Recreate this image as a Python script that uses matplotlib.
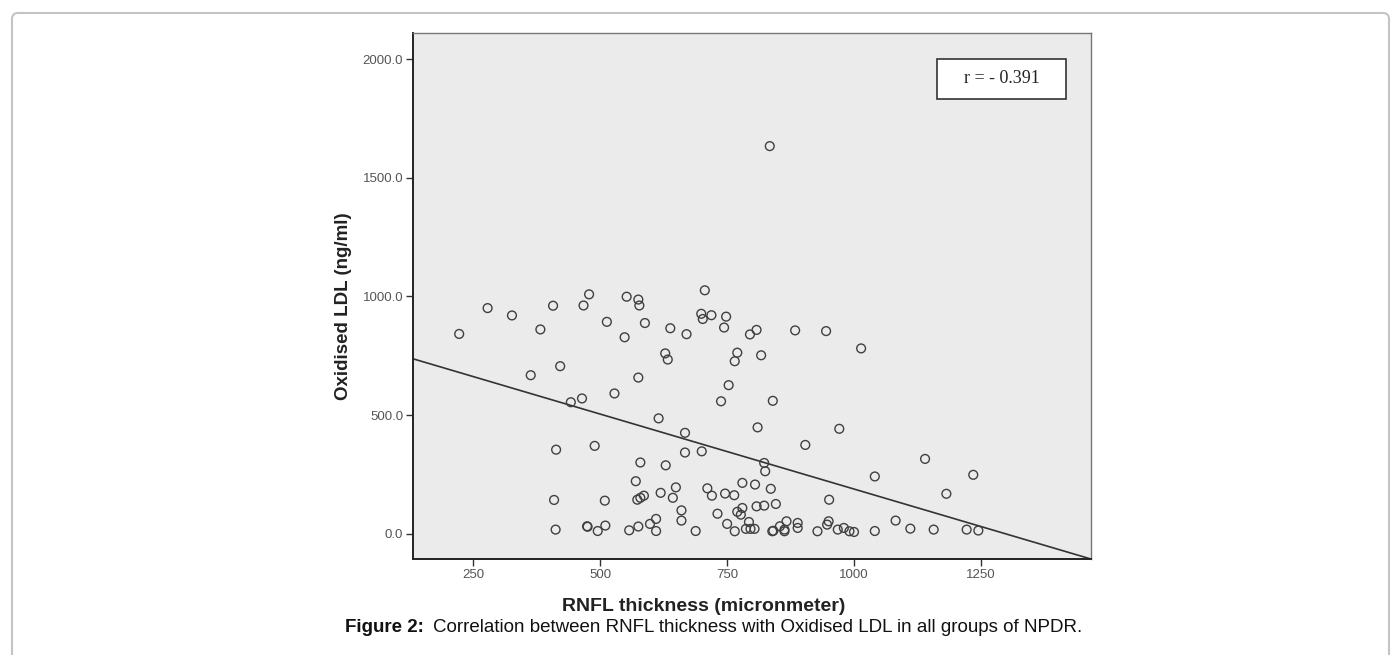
import matplotlib
matplotlib.use("Agg")
import matplotlib.pyplot as plt
from matplotlib.patches import Rectangle, FancyBboxPatch
from matplotlib.ticker import FormatStrFormatter

plt.rcParams['font.family'] = ['Liberation Sans', 'DejaVu Sans']

# RNFL thickness (micronmeter) vs Oxidised LDL (ng/ml)
rnfl = [222, 278, 326, 363, 382, 407, 421, 442, 464, 467, 478, 513, 528, 548, 552,
        575, 577, 575, 588, 615, 628, 633, 638, 667, 670, 667, 699, 702, 700, 706,
        719, 744, 748, 753, 738, 765, 770, 795, 808, 817, 840, 810, 834, 884, 945,
        1014, 971, 904, 823, 825, 1140, 1235, 1041, 1182, 413, 489, 579, 629, 570, 649,
        619, 643, 573, 579, 586, 409, 509, 660, 660, 610, 598, 412, 474, 475, 495,
        510, 557, 575, 610, 688, 711, 720, 746, 764, 780, 805, 836, 951, 846, 808,
        823, 780, 770, 777, 731, 750, 765, 793, 787, 796, 804, 839, 841, 854, 863,
        863, 867, 889, 889, 928, 950, 947, 968, 980, 991, 1000, 1041, 1082, 1111, 1157,
        1222, 1245]
oxldl = [842, 951, 920, 668, 861, 961, 706, 554, 570, 962, 1009, 893, 591, 828, 999,
         987, 962, 658, 888, 486, 760, 734, 866, 425, 841, 342, 927, 905, 347, 1026,
         921, 869, 915, 626, 558, 727, 763, 840, 859, 752, 560, 448, 1634, 857, 854,
         781, 442, 374, 298, 263, 315, 248, 241, 168, 354, 370, 300, 288, 221, 195,
         172, 151, 143, 151, 160, 142, 139, 98, 55, 62, 41, 17, 31, 29, 11,
         34, 14, 30, 11, 11, 191, 160, 169, 162, 214, 207, 189, 143, 125, 115,
         118, 108, 92, 80, 84, 41, 10, 49, 20, 20, 20, 10, 12, 31, 10,
         17, 52, 45, 24, 10, 52, 38, 17, 24, 10, 7, 11, 55, 21, 17,
         17, 13]

# fit line as drawn in the figure
fit_intercept = 820.0
fit_slope = -0.632
r_text = "r = - 0.391"

xticks = [250, 500, 750, 1000, 1250]
yticks = [0, 500, 1000, 1500, 2000]
xlim = (131, 1467)
ylim = (-107, 2111)

fig = plt.figure(figsize=(14, 6.55), dpi=100)
fig.patch.set_facecolor('white')

# rounded page frame
frame = FancyBboxPatch((12, -20), 1377, 655 - 13 + 20,
                       boxstyle="round,pad=0,rounding_size=6",
                       transform=None, facecolor='none', edgecolor='#c4c4c4',
                       linewidth=1.5)
fig.patches.append(frame)

ax = fig.add_axes([413 / 1400, 1 - 559 / 655, 678 / 1400, 526 / 655])
ax.set_facecolor('#ebebeb')

ax.scatter(rnfl, oxldl, s=40, facecolors='none', edgecolors='#404040',
           linewidths=1.0, zorder=3)

xs = [xlim[0], xlim[1]]
ys = [fit_intercept + fit_slope * v for v in xs]
ax.plot(xs, ys, color='#333333', linewidth=1.2, zorder=2)

ax.set_xlim(*xlim)
ax.set_ylim(*ylim)
ax.set_xticks(xticks)
ax.set_yticks(yticks)
ax.yaxis.set_major_formatter(FormatStrFormatter('%.1f'))
ax.tick_params(axis='both', direction='out', length=5, width=1, color='#333333',
               labelsize=9.5, labelcolor='#555555', pad=2)
ax.tick_params(top=False, right=False)

for side in ['left', 'bottom']:
    ax.spines[side].set_color('#222222')
    ax.spines[side].set_linewidth(1.4)
for side in ['top', 'right']:
    ax.spines[side].set_color('#777777')
    ax.spines[side].set_linewidth(1.0)

ax.set_xlabel('RNFL thickness (micronmeter)', fontsize=14, fontweight='bold',
              color='#222222')
ax.xaxis.set_label_coords(0.429, -0.091)
ax.xaxis.label.set_va('center')
ax.set_ylabel('Oxidised LDL (ng/ml)', fontsize=13.5, fontweight='bold',
              color='#222222')
ax.yaxis.set_label_coords(-0.102, 0.48)
ax.yaxis.label.set_va('center')

# correlation box
bx0, bx1 = 0.773, 0.963
by0, by1 = 0.8745, 0.9506
ax.add_patch(Rectangle((bx0, by0), bx1 - bx0, by1 - by0, transform=ax.transAxes,
                       facecolor='white', edgecolor='#333333', linewidth=1.2,
                       zorder=4))
ax.text((bx0 + bx1) / 2, (by0 + by1) / 2, r_text, transform=ax.transAxes,
        ha='center', va='center', fontsize=13, family='Liberation Serif',
        color='#222222', zorder=5)

# caption: bold lead-in followed by plain text
cap_y = 1 - 627 / 655
t1 = fig.text(345 / 1400, cap_y, 'Figure 2:', fontsize=13.5, fontweight='bold',
              ha='left', va='center', color='#111111')
fig.canvas.draw()
bb = t1.get_window_extent(renderer=fig.canvas.get_renderer())
fig.text((bb.x1 + 9) / 1400, cap_y,
         'Correlation between RNFL thickness with Oxidised LDL in all groups of NPDR.',
         fontsize=13.5, ha='left', va='center', color='#111111')

fig.savefig('out.png', dpi=100)
